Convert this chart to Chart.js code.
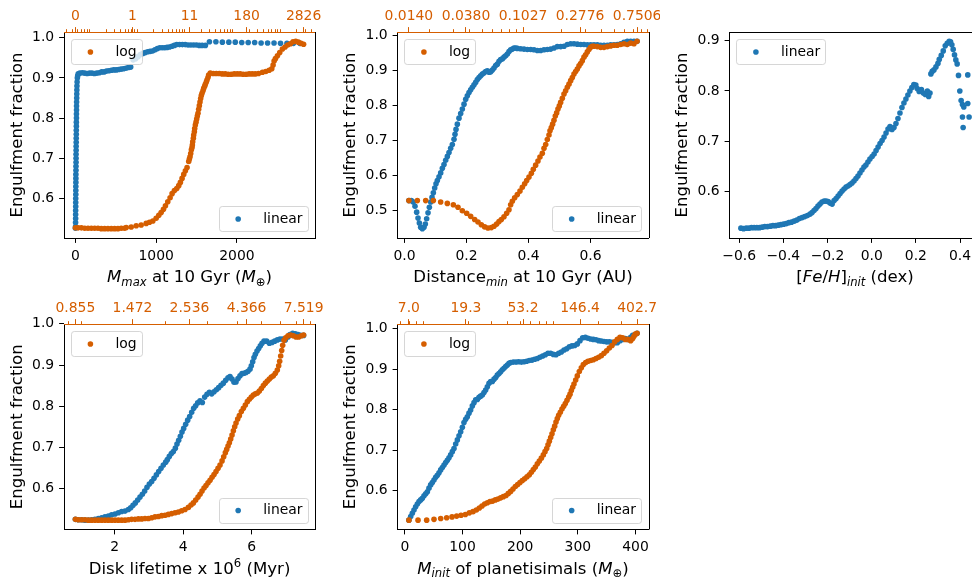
<!DOCTYPE html>
<html>
<head>
<meta charset="utf-8">
<title>Engulfment fraction</title>
<script src="https://cdn.jsdelivr.net/npm/chart.js@4.4.1/dist/chart.umd.min.js"></script>
<style>
  html, body { margin: 0; padding: 0; background: #fff; }
  body { width: 972px; height: 580px; overflow: hidden; position: relative; }
  canvas { position: absolute; }
</style>
</head>
<body>
<canvas id="c1" width="330" height="290" style="left:0;top:0"></canvas>
<canvas id="c2" width="330" height="290" style="left:330px;top:0"></canvas>
<canvas id="c3" width="340" height="290" style="left:660px;top:0"></canvas>
<canvas id="c4" width="330" height="290" style="left:0;top:290px"></canvas>
<canvas id="c5" width="330" height="290" style="left:330px;top:290px"></canvas>
<script>
// ---- M_max at 10 Gyr ----
const p1LinX = [
  1, 2, 2, 3, 3, 3, 4, 4, 4, 5, 5, 5, 6, 6, 6, 7, 7, 8, 8, 8,
  9, 9, 10, 10, 11, 11, 12, 12, 13, 13, 14, 14, 15, 16, 17, 18, 19, 21, 24, 28, 35,
  55, 85, 115, 145, 175, 205, 235, 265, 295, 325, 355, 385, 415, 445, 475, 505, 535, 565, 595, 625, 655, 685,
  715, 745, 775, 805, 835, 865, 895, 925, 955, 985, 1015, 1045, 1075, 1105, 1135, 1165, 1195, 1225,
  1255, 1290, 1325, 1360, 1395, 1430, 1465, 1500, 1535, 1570, 1610,
  1660, 1740, 1820, 1900, 1980, 2060, 2140, 2220, 2300, 2380, 2460, 2540, 2620, 2700, 2780
];
const p1LinY = [
  0.526, 0.53, 0.54, 0.55, 0.56, 0.57, 0.58, 0.59, 0.60, 0.61, 0.62, 0.63, 0.64, 0.65, 0.66, 0.67, 0.68, 0.69, 0.70, 0.71,
  0.72, 0.73, 0.74, 0.75, 0.76, 0.77, 0.78, 0.79, 0.80, 0.81, 0.82, 0.83, 0.84, 0.85, 0.86, 0.87, 0.88, 0.89, 0.90, 0.905, 0.91,
  0.912, 0.913, 0.912, 0.911, 0.912, 0.912, 0.911, 0.912, 0.913, 0.915, 0.915, 0.917, 0.918, 0.919, 0.920, 0.920, 0.921, 0.922, 0.923, 0.924, 0.926, 0.927,
  0.945, 0.948, 0.953, 0.958, 0.961, 0.963, 0.965, 0.966, 0.967, 0.970, 0.973, 0.975, 0.975, 0.975, 0.976, 0.977, 0.979, 0.981,
  0.983, 0.983, 0.983, 0.983, 0.982, 0.982, 0.982, 0.982, 0.981, 0.981, 0.981,
  0.990, 0.990, 0.989, 0.989, 0.989, 0.988, 0.988, 0.988, 0.987, 0.987, 0.987, 0.986, 0.986, 0.986, 0.986
];
const p1LogX = [
  0.0468, 0.0532, 0.0624, 0.0733, 0.0860, 0.1010, 0.1185, 0.1391, 0.1633, 0.1917,
  0.2251, 0.2642, 0.3101, 0.3640, 0.4273, 0.5016, 0.5435, 0.6913, 0.8793, 1.118,
  1.422, 1.669, 1.960, 2.300, 2.615, 2.926, 3.274, 3.604, 4.032, 4.510,
  4.966, 5.556, 6.216, 6.842, 7.413, 8.035, 8.703, 9.430, 10.22, 11.07,
  11.43, 11.80, 12.19, 12.59, 12.99, 13.21, 13.42, 13.86, 14.08, 14.54,
  14.77, 15.25, 15.75, 16.27, 16.80, 17.34, 17.90, 18.49, 19.09, 19.71,
  20.35, 21.02, 22.05, 22.78, 23.89, 24.67, 25.88, 26.73, 28.05, 28.96,
  31.38, 36.25, 41.88, 48.37, 55.87, 64.55, 74.56, 86.14, 99.52, 115.0,
  132.8, 153.4, 177.2, 204.8, 236.5, 273.3, 320.7, 388.7, 456.2, 535.8,
  609.0, 649.2, 681.3, 726.4, 799.8, 894.6, 1017, 1156, 1314, 1494,
  1699, 1931, 2195, 2496, 2826
];
const p1LogY = [
  0.527, 0.527, 0.527, 0.526, 0.526, 0.526, 0.526, 0.526, 0.525, 0.525,
  0.525, 0.525, 0.525, 0.525, 0.526, 0.526, 0.528, 0.529, 0.532, 0.534,
  0.538, 0.541, 0.544, 0.551, 0.558, 0.565, 0.573, 0.582, 0.592, 0.602,
  0.612, 0.620, 0.625, 0.632, 0.640, 0.650, 0.660, 0.669, 0.677, 0.692,
  0.698, 0.704, 0.712, 0.721, 0.727, 0.733, 0.741, 0.750, 0.758, 0.766,
  0.774, 0.783, 0.790, 0.798, 0.805, 0.812, 0.822, 0.831, 0.840, 0.849,
  0.856, 0.862, 0.868, 0.874, 0.879, 0.884, 0.890, 0.895, 0.901, 0.907,
  0.912, 0.911, 0.911, 0.911, 0.910, 0.910, 0.909, 0.909, 0.910, 0.910,
  0.910, 0.909, 0.909, 0.910, 0.910, 0.910, 0.911, 0.914, 0.916, 0.919,
  0.923, 0.932, 0.942, 0.948, 0.955, 0.963, 0.972, 0.977, 0.982, 0.985,
  0.990, 0.991, 0.989, 0.986, 0.984
];
const p1XTicks = [0, 1000, 2000];
const p1TopLabels = ['0', '1', '11', '180', '2826'];

// ---- Distance_min at 10 Gyr ----
const p2LinX = [
  0.0140, 0.0219, 0.0283, 0.0337, 0.0391, 0.0434, 0.0477, 0.0520, 0.0574,
  0.0627, 0.0670, 0.0713, 0.0757, 0.0800, 0.0843, 0.0886, 0.0929, 0.0972, 0.1015,
  0.1058, 0.1112, 0.1166, 0.1219, 0.1273, 0.1327, 0.1381, 0.1434, 0.1488, 0.1542,
  0.1596, 0.1628, 0.1660, 0.1703, 0.1757, 0.1811, 0.1865, 0.1919, 0.1973, 0.2026,
  0.2080, 0.2134, 0.2188, 0.2242, 0.2295, 0.2349, 0.2403, 0.2457, 0.2511, 0.2564,
  0.2618, 0.2672, 0.2726, 0.2780, 0.2833, 0.2887, 0.2941, 0.2995, 0.3049, 0.3102,
  0.3156, 0.3210, 0.3264, 0.3318, 0.3371, 0.3425, 0.3479, 0.3533, 0.3587, 0.3640,
  0.3748, 0.3855, 0.3963, 0.4071, 0.4178, 0.4286, 0.4393, 0.4501, 0.4609, 0.4716,
  0.4824, 0.4931, 0.5039, 0.5147, 0.5254, 0.5362, 0.5469, 0.5577, 0.5685, 0.5792,
  0.5900, 0.6008, 0.6115, 0.6223, 0.6330, 0.6438, 0.6546, 0.6653, 0.6761, 0.6868,
  0.6976, 0.7083, 0.7191, 0.7299, 0.7406, 0.7506
];
const p2LinY = [
  0.529, 0.529, 0.525, 0.513, 0.496, 0.479, 0.465, 0.453, 0.449,
  0.453, 0.462, 0.477, 0.494, 0.510, 0.525, 0.538, 0.551, 0.565, 0.577,
  0.586, 0.597, 0.608, 0.621, 0.632, 0.644, 0.655, 0.666, 0.678, 0.689,
  0.704, 0.718, 0.732, 0.747, 0.764, 0.777, 0.790, 0.804, 0.818, 0.828,
  0.837, 0.845, 0.852, 0.859, 0.866, 0.874, 0.880, 0.885, 0.890, 0.893,
  0.897, 0.899, 0.895, 0.896, 0.901, 0.907, 0.914, 0.918, 0.926, 0.931,
  0.933, 0.938, 0.942, 0.947, 0.954, 0.959, 0.961, 0.964, 0.964, 0.963,
  0.962, 0.961, 0.960, 0.960, 0.959, 0.957, 0.957, 0.959, 0.960, 0.961,
  0.964, 0.968, 0.968, 0.969, 0.974, 0.976, 0.976, 0.975, 0.974, 0.974,
  0.973, 0.973, 0.973, 0.973, 0.972, 0.972, 0.972, 0.973, 0.973, 0.974,
  0.976, 0.980, 0.983, 0.983, 0.983, 0.983
];
const p2LogX = [
  0.0140, 0.01622, 0.01876, 0.02145, 0.02436, 0.02737, 0.03039, 0.03297, 0.03556, 0.03836,
  0.04113, 0.04410, 0.04674, 0.04955, 0.05252, 0.05566, 0.05900, 0.06180, 0.06474, 0.06743,
  0.07023, 0.07357, 0.07707, 0.08027, 0.08264, 0.08507, 0.08861, 0.09285, 0.09727, 0.1013,
  0.1055, 0.1093, 0.1138, 0.1186, 0.1227, 0.1278, 0.1331, 0.1378, 0.1436, 0.1479,
  0.1523, 0.1567, 0.1613, 0.1642, 0.1680, 0.1719, 0.1760, 0.1801, 0.1844, 0.1887,
  0.1932, 0.1977, 0.2036, 0.2096, 0.2158, 0.2222, 0.2287, 0.2355, 0.2424, 0.2495,
  0.2569, 0.2645, 0.2723, 0.2803, 0.2886, 0.2971, 0.3059, 0.3149, 0.3242, 0.3338,
  0.3436, 0.3538, 0.3750, 0.3974, 0.4211, 0.4464, 0.4731, 0.5014, 0.5314, 0.5632,
  0.5969, 0.6326, 0.6707, 0.7110, 0.7506
];
const p2LogY = [
  0.529, 0.529, 0.529, 0.529, 0.525, 0.521, 0.517, 0.510, 0.500, 0.493,
  0.484, 0.475, 0.468, 0.460, 0.454, 0.451, 0.452, 0.456, 0.462, 0.469,
  0.475, 0.483, 0.493, 0.503, 0.517, 0.527, 0.537, 0.546, 0.556, 0.567,
  0.577, 0.586, 0.596, 0.607, 0.618, 0.630, 0.642, 0.653, 0.664, 0.678,
  0.689, 0.703, 0.716, 0.728, 0.737, 0.747, 0.758, 0.770, 0.779, 0.790,
  0.799, 0.809, 0.821, 0.833, 0.842, 0.852, 0.861, 0.871, 0.880, 0.890,
  0.897, 0.904, 0.913, 0.920, 0.928, 0.938, 0.945, 0.953, 0.960, 0.966,
  0.969, 0.969, 0.968, 0.966, 0.966, 0.968, 0.970, 0.972, 0.972, 0.974,
  0.976, 0.974, 0.978, 0.976, 0.983
];
const p2XTicks = [0, 0.2, 0.4, 0.6];
const p2TopLabels = ['0.0140', '0.0380', '0.1027', '0.2776', '0.7506'];

// ---- [Fe/H]_init ----
const p3LinX = [
  -0.592, -0.580, -0.568, -0.556, -0.544, -0.532, -0.520, -0.508, -0.496, -0.484,
  -0.472, -0.459, -0.447, -0.435, -0.423, -0.411, -0.399, -0.387, -0.375, -0.363,
  -0.351, -0.339, -0.327, -0.315, -0.303, -0.291, -0.279, -0.270, -0.261, -0.252,
  -0.243, -0.234, -0.225, -0.215, -0.206, -0.197, -0.188, -0.179, -0.170, -0.161,
  -0.152, -0.143, -0.134, -0.125, -0.116, -0.107, -0.098, -0.089, -0.080, -0.071,
  -0.062, -0.053, -0.044, -0.035, -0.026, -0.017, -0.008, 0.002, 0.011, 0.020,
  0.029, 0.038, 0.047, 0.056, 0.065, 0.074, 0.083, 0.092, 0.101, 0.110,
  0.119, 0.128, 0.137, 0.146, 0.155, 0.164, 0.173, 0.182, 0.191, 0.200,
  0.206, 0.215, 0.225, 0.234, 0.243, 0.252, 0.258, 0.264, 0.268, 0.274,
  0.282, 0.291, 0.300, 0.306, 0.315, 0.324, 0.333, 0.342, 0.351, 0.357,
  0.363, 0.369, 0.375, 0.381, 0.387, 0.393, 0.399, 0.405, 0.411, 0.417,
  0.411, 0.414, 0.435, 0.435, 0.441
];
const p3LinY = [
  0.526, 0.525, 0.526, 0.526, 0.527, 0.527, 0.527, 0.527, 0.528, 0.529,
  0.529, 0.530, 0.531, 0.531, 0.532, 0.533, 0.534, 0.535, 0.537, 0.538,
  0.540, 0.542, 0.545, 0.547, 0.549, 0.551, 0.554, 0.557, 0.561, 0.565,
  0.570, 0.574, 0.578, 0.580, 0.580, 0.579, 0.576, 0.574, 0.581, 0.585,
  0.590, 0.595, 0.600, 0.604, 0.608, 0.610, 0.613, 0.616, 0.620, 0.625,
  0.630, 0.636, 0.642, 0.648, 0.652, 0.658, 0.664, 0.669, 0.674, 0.681,
  0.688, 0.695, 0.701, 0.708, 0.716, 0.724, 0.729, 0.723, 0.727, 0.735,
  0.745, 0.756, 0.767, 0.776, 0.784, 0.792, 0.800, 0.807, 0.813, 0.812,
  0.805, 0.799, 0.803, 0.796, 0.793, 0.800, 0.789, 0.796, 0.834, 0.839,
  0.842, 0.848, 0.855, 0.863, 0.871, 0.880, 0.890, 0.895, 0.899, 0.898,
  0.892, 0.883, 0.872, 0.862, 0.854, 0.831, 0.800, 0.781, 0.773, 0.768,
  0.748, 0.727, 0.832, 0.775, 0.748
];
const p3XTicks = [-0.6, -0.4, -0.2, 0, 0.2, 0.4];

// ---- Disk lifetime ----
const p4LinX = [
  0.855, 0.941, 1.038, 1.135, 1.233, 1.330, 1.427, 1.525, 1.622, 1.719,
  1.817, 1.914, 2.012, 2.109, 2.206, 2.304, 2.401, 2.469, 2.537, 2.605,
  2.674, 2.742, 2.810, 2.878, 2.946, 3.014, 3.083, 3.151, 3.219, 3.287,
  3.355, 3.423, 3.491, 3.540, 3.598, 3.657, 3.715, 3.774, 3.822, 3.871,
  3.920, 3.968, 4.017, 4.075, 4.134, 4.192, 4.251, 4.309, 4.367, 4.426,
  4.494, 4.562, 4.630, 4.698, 4.767, 4.835, 4.903, 4.971, 5.039, 5.107,
  5.175, 5.244, 5.312, 5.370, 5.429, 5.487, 5.545, 5.604, 5.662, 5.721,
  5.779, 5.837, 5.896, 5.954, 5.993, 6.032, 6.071, 6.110, 6.159, 6.207,
  6.256, 6.305, 6.363, 6.441, 6.519, 6.597, 6.675, 6.752, 6.830, 6.908,
  6.986, 7.064, 7.122, 7.200, 7.278, 7.356, 7.434, 7.519
];
const p4LinY = [
  0.525, 0.524, 0.524, 0.523, 0.523, 0.524, 0.525, 0.527, 0.529, 0.531,
  0.533, 0.536, 0.538, 0.541, 0.544, 0.545, 0.549, 0.553, 0.559, 0.565,
  0.572, 0.579, 0.586, 0.594, 0.603, 0.611, 0.617, 0.625, 0.633, 0.641,
  0.649, 0.657, 0.664, 0.670, 0.678, 0.685, 0.690, 0.698, 0.708, 0.717,
  0.727, 0.737, 0.746, 0.756, 0.766, 0.775, 0.785, 0.795, 0.801, 0.808,
  0.813, 0.809, 0.822, 0.829, 0.834, 0.830, 0.835, 0.840, 0.845, 0.851,
  0.856, 0.863, 0.869, 0.872, 0.866, 0.858, 0.859, 0.867, 0.874, 0.879,
  0.880, 0.882, 0.885, 0.890, 0.898, 0.908, 0.918, 0.926, 0.934, 0.940,
  0.947, 0.953, 0.958, 0.958, 0.953, 0.955, 0.958, 0.961, 0.963, 0.963,
  0.961, 0.968, 0.974, 0.977, 0.976, 0.974, 0.972, 0.972
];
const p4LogX = [
  0.855, 0.8794, 0.9077, 0.9369, 0.9671, 0.9983, 1.0306, 1.0638, 1.0981, 1.1336,
  1.1700, 1.2078, 1.2468, 1.2871, 1.3286, 1.3715, 1.4158, 1.4614, 1.5087, 1.5574,
  1.6077, 1.6596, 1.7132, 1.7685, 1.8256, 1.8845, 1.9454, 2.0082, 2.0730, 2.1400,
  2.2091, 2.2804, 2.3540, 2.4300, 2.5085, 2.5730, 2.6308, 2.6899, 2.7504, 2.8033,
  2.8572, 2.9121, 2.9681, 3.0253, 3.0834, 3.1428, 3.2033, 3.2649, 3.3277, 3.3918,
  3.4571, 3.5124, 3.5687, 3.6143, 3.6604, 3.7072, 3.7546, 3.8025, 3.8511, 3.8999,
  3.9497, 4.0130, 4.0772, 4.1556, 4.2355, 4.3170, 4.4001, 4.4847, 4.5710, 4.6590,
  4.7487, 4.8403, 4.9333, 5.0283, 5.1250, 5.2236, 5.3241, 5.4265, 5.5309, 5.6364,
  5.7448, 5.8553, 5.9302, 5.9870, 6.0443, 6.1022, 6.1607, 6.2394, 6.3393, 6.4819,
  6.6489, 6.8202, 6.9960, 7.1763, 7.3612, 7.519
];
const p4LogY = [
  0.525, 0.524, 0.524, 0.524, 0.523, 0.523, 0.523, 0.523, 0.523, 0.523,
  0.523, 0.523, 0.523, 0.523, 0.523, 0.523, 0.524, 0.525, 0.525, 0.526,
  0.526, 0.527, 0.527, 0.529, 0.531, 0.532, 0.534, 0.535, 0.537, 0.539,
  0.541, 0.543, 0.546, 0.549, 0.554, 0.560, 0.565, 0.572, 0.579, 0.586,
  0.594, 0.601, 0.607, 0.614, 0.620, 0.627, 0.634, 0.641, 0.649, 0.657,
  0.667, 0.677, 0.687, 0.695, 0.703, 0.711, 0.720, 0.730, 0.740, 0.750,
  0.759, 0.769, 0.777, 0.787, 0.795, 0.803, 0.811, 0.817, 0.822, 0.827,
  0.830, 0.832, 0.837, 0.843, 0.850, 0.856, 0.861, 0.866, 0.871, 0.874,
  0.880, 0.888, 0.898, 0.909, 0.922, 0.935, 0.948, 0.960, 0.966, 0.971,
  0.973, 0.971, 0.968, 0.968, 0.971, 0.973
];
const p4XTicks = [2, 4, 6];
const p4TopLabels = ['0.855', '1.472', '2.536', '4.366', '7.519'];

// ---- M_init of planetesimals ----
const p5LinX = [
  7.0, 10.1, 12.9, 15.8, 18.7, 21.6, 24.5, 27.4, 30.3, 33.2,
  36.1, 39.0, 41.8, 44.7, 47.6, 50.5, 53.4, 56.3, 59.2, 62.1,
  65.0, 67.9, 70.8, 73.6, 76.5, 79.4, 82.3, 85.2, 88.1, 91.0,
  93.9, 96.8, 99.7, 102.5, 105.4, 108.3, 111.2, 114.1, 117.0, 119.9,
  122.8, 125.7, 128.6, 131.4, 134.3, 137.2, 140.1, 143.0, 145.9, 148.8,
  151.7, 154.6, 157.5, 160.3, 163.2, 166.1, 169.0, 171.9, 174.8, 177.7,
  180.6, 183.5, 188.1, 192.7, 197.3, 202.0, 206.6, 211.2, 215.8, 220.5,
  225.1, 229.7, 234.3, 239.0, 243.6, 248.2, 252.8, 257.5, 262.1, 266.7,
  271.3, 276.0, 280.6, 285.2, 289.8, 294.5, 299.1, 303.7, 308.3, 313.0,
  317.6, 322.2, 326.8, 331.5, 336.1, 340.7, 345.3, 349.9, 354.6, 359.2,
  363.8, 368.4, 373.1, 377.7, 382.3, 386.9, 391.6, 395.0, 402.7
];
const p5LinY = [
  0.527, 0.536, 0.544, 0.552, 0.560, 0.567, 0.573, 0.577, 0.581, 0.587,
  0.592, 0.597, 0.606, 0.614, 0.620, 0.626, 0.633, 0.638, 0.644, 0.651,
  0.657, 0.663, 0.669, 0.675, 0.681, 0.688, 0.696, 0.704, 0.715, 0.725,
  0.735, 0.745, 0.756, 0.768, 0.776, 0.782, 0.791, 0.799, 0.809, 0.817,
  0.824, 0.825, 0.830, 0.833, 0.836, 0.842, 0.848, 0.856, 0.865, 0.869,
  0.869, 0.875, 0.879, 0.885, 0.889, 0.893, 0.898, 0.902, 0.906, 0.910,
  0.914, 0.916, 0.917, 0.917, 0.918, 0.917, 0.918, 0.919, 0.921, 0.922,
  0.924, 0.926, 0.929, 0.932, 0.935, 0.939, 0.939, 0.936, 0.935, 0.939,
  0.942, 0.947, 0.950, 0.955, 0.957, 0.958, 0.962, 0.970, 0.977, 0.978,
  0.976, 0.974, 0.973, 0.972, 0.970, 0.969, 0.968, 0.967, 0.967, 0.966,
  0.965, 0.965, 0.970, 0.973, 0.975, 0.973, 0.978, 0.983, 0.988
];
const p5LogX = [
  7.0, 8.229, 9.595, 10.93, 12.31, 13.69, 15.05, 16.35, 17.66, 19.07,
  20.47, 21.85, 23.18, 24.45, 25.63, 26.88, 28.18, 29.55, 30.98, 32.48,
  34.06, 35.71, 37.44, 39.26, 40.92, 42.65, 44.46, 46.34, 48.30, 50.33,
  52.46, 54.68, 57.00, 59.41, 61.56, 63.80, 66.11, 68.49, 70.97, 73.54,
  76.19, 78.48, 80.84, 82.78, 84.76, 86.79, 88.87, 91.00, 93.18, 95.41,
  97.68, 100.0, 103.0, 106.1, 109.3, 112.6, 116.0, 119.5, 122.4, 125.3,
  128.3, 131.3, 135.3, 139.3, 144.3, 149.6, 155.0, 161.6, 168.4, 176.6,
  185.1, 194.1, 203.5, 213.4, 223.7, 234.6, 246.0, 257.9, 270.4, 283.5,
  297.3, 311.7, 326.8, 342.6, 359.2, 372.2, 381.1, 390.3, 402.7
];
const p5LogY = [
  0.527, 0.527, 0.527, 0.529, 0.531, 0.533, 0.535, 0.537, 0.539, 0.541,
  0.545, 0.548, 0.552, 0.557, 0.562, 0.567, 0.570, 0.573, 0.574, 0.577,
  0.579, 0.582, 0.585, 0.588, 0.593, 0.598, 0.604, 0.610, 0.615, 0.620,
  0.625, 0.629, 0.634, 0.639, 0.645, 0.652, 0.658, 0.666, 0.673, 0.680,
  0.688, 0.696, 0.704, 0.713, 0.722, 0.731, 0.740, 0.750, 0.759, 0.769,
  0.778, 0.786, 0.793, 0.801, 0.808, 0.815, 0.823, 0.831, 0.838, 0.847,
  0.855, 0.863, 0.873, 0.883, 0.894, 0.903, 0.911, 0.916, 0.919, 0.921,
  0.923, 0.926, 0.929, 0.933, 0.939, 0.945, 0.952, 0.958, 0.967, 0.973,
  0.978, 0.977, 0.973, 0.973, 0.970, 0.975, 0.981, 0.986, 0.988
];
const p5XTicks = [0, 100, 200, 300, 400];
const p5TopLabels = ['7.0', '19.3', '53.2', '146.4', '402.7'];

const yTicksLow = [0.5, 0.6, 0.7, 0.8, 0.9, 1.0];
const yTicksHigh = [0.6, 0.7, 0.8, 0.9, 1.0];
const yTicksFeH = [0.6, 0.7, 0.8, 0.9];

const BLUE = '#1f77b4';
const ORANGE = '#d55e00';
const INK = '#000000';
const FAMILY = "'DejaVu Sans', sans-serif";
const TICK_PX = 13.9;
const LABEL_PX = 16.6;
const TICK_LEN = 4.9;
const TICK_PAD = 4.9;
const TOP_PAD = 2.4;
const MARK_R = 2.8;

function pairs(xs, ys) {
  return xs.map((x, i) => ({ x: x, y: ys[i] }));
}

// matplotlib-style 5% margins around the data extent
function padRange(vals) {
  const lo = Math.min(...vals), hi = Math.max(...vals);
  const m = (hi - lo) * 0.05;
  return [lo - m, hi + m];
}

function padLogRange(vals) {
  const lo = Math.log10(Math.min(...vals)), hi = Math.log10(Math.max(...vals));
  const m = (hi - lo) * 0.05;
  return [Math.pow(10, lo - m), Math.pow(10, hi + m)];
}

// evenly spaced (in log) ticks between data min and max
function logSpaced(vals, n) {
  const lo = Math.min(...vals), hi = Math.max(...vals);
  const out = [];
  for (let k = 0; k < n; k++) out.push(lo * Math.pow(hi / lo, k / (n - 1)));
  return out;
}

function fmtTick(v, digits) {
  const s = Math.abs(v).toFixed(digits);
  return (v < 0 && Number(s) !== 0 ? '\u2212' : '') + s;
}

function alignPx(v) {
  return Math.round(v) + 0.5;
}

// right spine (and top spine where there is no twin axis)
const frame = {
  id: 'frame',
  afterDraw(chart) {
    const { ctx, chartArea: a } = chart;
    ctx.save();
    ctx.strokeStyle = INK;
    ctx.lineWidth = 1;
    ctx.beginPath();
    ctx.moveTo(alignPx(a.right), a.top);
    ctx.lineTo(alignPx(a.right), a.bottom);
    if (!chart.scales.x2) {
      ctx.moveTo(a.left, alignPx(a.top));
      ctx.lineTo(a.right, alignPx(a.top));
    }
    ctx.stroke();
    ctx.restore();
  }
};

// log minor ticks on the upper axis
const minorTicks = {
  id: 'minorTicks',
  afterDraw(chart) {
    const s = chart.scales.x2;
    if (!s) return;
    const ctx = chart.ctx;
    ctx.save();
    ctx.strokeStyle = ORANGE;
    ctx.lineWidth = 1;
    const e0 = Math.floor(Math.log10(s.min)), e1 = Math.ceil(Math.log10(s.max));
    ctx.beginPath();
    for (let e = e0; e <= e1; e++) {
      for (let m = 2; m <= 9; m++) {
        const v = m * Math.pow(10, e);
        if (v < s.min || v > s.max) continue;
        const px = alignPx(s.getPixelForValue(v));
        ctx.moveTo(px, s.bottom);
        ctx.lineTo(px, s.bottom - 2.8);
      }
    }
    ctx.stroke();
    ctx.restore();
  }
};

function roundRect(ctx, x, y, w, h, r) {
  ctx.beginPath();
  ctx.moveTo(x + r, y);
  ctx.lineTo(x + w - r, y);
  ctx.arcTo(x + w, y, x + w, y + r, r);
  ctx.lineTo(x + w, y + h - r);
  ctx.arcTo(x + w, y + h, x + w - r, y + h, r);
  ctx.lineTo(x + r, y + h);
  ctx.arcTo(x, y + h, x, y + h - r, r);
  ctx.lineTo(x, y + r);
  ctx.arcTo(x, y, x + r, y, r);
  ctx.closePath();
}

// framed legends placed inside the axes corners
const boxLegend = {
  id: 'boxLegend',
  afterDatasetsDraw(chart, args, opts) {
    const { ctx, chartArea: a } = chart;
    const fs = TICK_PX, pad = 0.4 * fs, gap = 0.5 * fs;
    for (const item of opts.items || []) {
      ctx.save();
      ctx.font = fs + 'px ' + FAMILY;
      const tw = ctx.measureText(item.label).width;
      const w = pad + 2 * fs + 0.8 * fs + tw + pad;
      const h = 2 * pad + fs;
      const x = item.corner === 'ul' ? a.left + gap : a.right - gap - w;
      const y = item.corner === 'ul' ? a.top + gap : a.bottom - gap - h;
      roundRect(ctx, Math.round(x) + 0.5, Math.round(y) + 0.5, Math.round(w), Math.round(h), 0.2 * fs);
      ctx.fillStyle = 'rgba(255,255,255,0.8)';
      ctx.fill();
      ctx.strokeStyle = 'rgba(204,204,204,0.8)';
      ctx.lineWidth = 1;
      ctx.stroke();
      ctx.fillStyle = item.color;
      ctx.beginPath();
      ctx.arc(x + pad + fs, y + h / 2 + 0.5, MARK_R, 0, Math.PI * 2);
      ctx.fill();
      ctx.fillStyle = INK;
      ctx.textBaseline = 'middle';
      ctx.textAlign = 'left';
      ctx.fillText(item.label, x + pad + 2.8 * fs, y + h / 2 + 0.5);
      ctx.restore();
    }
  }
};

// x-axis label with italic, subscript and superscript runs
const richTitle = {
  id: 'richTitle',
  afterDraw(chart, args, opts) {
    if (!opts.parts) return;
    const { ctx, chartArea: a } = chart;
    const runs = opts.parts.map(p => {
      const small = p.sub || p.sup;
      const size = small ? LABEL_PX * 0.7 : LABEL_PX;
      const font = (p.it ? 'italic ' : '') + size + 'px ' + FAMILY;
      ctx.font = font;
      const dy = p.sub ? LABEL_PX * 0.22 : p.sup ? -LABEL_PX * 0.42 : 0;
      return { text: p.t, font: font, w: ctx.measureText(p.t).width, dy: dy };
    });
    const total = runs.reduce((s, r) => s + r.w, 0);
    let x = (a.left + a.right) / 2 - total / 2;
    const base = a.bottom + opts.offset;
    ctx.save();
    ctx.fillStyle = INK;
    ctx.textAlign = 'left';
    ctx.textBaseline = 'alphabetic';
    for (const r of runs) {
      ctx.font = r.font;
      ctx.fillText(r.text, x, base + r.dy);
      x += r.w;
    }
    ctx.restore();
  }
};

function buildPanel(spec) {
  const g = spec.box;
  const allX = spec.logX ? spec.linX.concat(spec.logX) : spec.linX;
  const allY = spec.logY ? spec.linY.concat(spec.logY) : spec.linY;
  const [xMin, xMax] = padRange(allX);
  const [yMin, yMax] = padRange(allY);
  const tickFont = { family: FAMILY, size: TICK_PX };

  const datasets = [{
    label: 'linear',
    data: pairs(spec.linX, spec.linY),
    xAxisID: 'x', yAxisID: 'y',
    backgroundColor: BLUE, borderColor: BLUE,
    pointRadius: MARK_R, borderWidth: 0, order: 1
  }];

  const scales = {
    x: {
      type: 'linear', position: 'bottom', min: xMin, max: xMax,
      afterBuildTicks: s => { s.ticks = spec.xTicks.map(v => ({ value: v })); },
      afterFit: s => { s.height = g.bottom; s.paddingLeft = 0; s.paddingRight = 0; },
      ticks: {
        font: tickFont, color: INK, padding: TICK_PAD, autoSkip: false, maxRotation: 0,
        callback: v => fmtTick(v, spec.xDigits)
      },
      grid: { drawOnChartArea: false, tickLength: TICK_LEN, tickColor: INK },
      border: { color: INK, width: 1 }
    },
    y: {
      type: 'linear', position: 'left', min: yMin, max: yMax,
      afterBuildTicks: s => { s.ticks = spec.yTicks.map(v => ({ value: v })); },
      afterFit: s => { s.width = g.left; s.paddingTop = 0; s.paddingBottom = 0; },
      ticks: {
        font: tickFont, color: INK, padding: TICK_PAD, autoSkip: false,
        callback: v => fmtTick(v, 1)
      },
      grid: { drawOnChartArea: false, tickLength: TICK_LEN, tickColor: INK },
      border: { color: INK, width: 1 },
      title: {
        display: true, text: 'Engulfment fraction', color: INK,
        font: { family: FAMILY, size: LABEL_PX, lineHeight: 1.164 },
        padding: { top: g.left - 46.5 - LABEL_PX * 1.164 / 2, bottom: 0 }
      }
    }
  };

  const legendItems = [];
  if (spec.logX) {
    datasets.push({
      label: 'log',
      data: pairs(spec.logX, spec.logY),
      xAxisID: 'x2', yAxisID: 'y',
      backgroundColor: ORANGE, borderColor: ORANGE,
      pointRadius: MARK_R, borderWidth: 0, order: 0
    });
    const [lMin, lMax] = padLogRange(spec.logX);
    const topVals = logSpaced(spec.logX, spec.topLabels.length);
    scales.x2 = {
      type: 'logarithmic', position: 'top', min: lMin, max: lMax,
      afterBuildTicks: s => { s.ticks = topVals.map(v => ({ value: v })); },
      afterFit: s => { s.height = g.top; s.paddingLeft = 0; s.paddingRight = 0; },
      ticks: {
        font: tickFont, color: ORANGE, padding: TOP_PAD, autoSkip: false, maxRotation: 0,
        callback: (v, i) => spec.topLabels[i]
      },
      grid: { drawOnChartArea: false, tickLength: TICK_LEN, tickColor: ORANGE },
      border: { color: ORANGE, width: 1 }
    };
    legendItems.push({ label: 'log', color: ORANGE, corner: 'ul' });
    legendItems.push({ label: 'linear', color: BLUE, corner: 'lr' });
  } else {
    legendItems.push({ label: 'linear', color: BLUE, corner: 'ul' });
  }

  new Chart(document.getElementById(spec.id), {
    type: 'scatter',
    data: { datasets: datasets },
    options: {
      responsive: false,
      animation: false,
      events: [],
      layout: { padding: { left: 0, right: g.right, top: spec.logX ? 0 : g.top, bottom: 0 } },
      plugins: {
        legend: { display: false },
        tooltip: { enabled: false },
        boxLegend: { items: legendItems },
        richTitle: { parts: spec.xLabel, offset: 44 }
      },
      scales: scales
    },
    plugins: [frame, minorTicks, boxLegend, richTitle]
  });
}

const panels = [
  {
    id: 'c1', linX: p1LinX, linY: p1LinY, logX: p1LogX, logY: p1LogY,
    xTicks: p1XTicks, xDigits: 0, yTicks: yTicksHigh, topLabels: p1TopLabels,
    xLabel: [{ t: 'M', it: 1 }, { t: 'max', it: 1, sub: 1 }, { t: ' at 10 Gyr (' }, { t: 'M', it: 1 }, { t: '\u2295', sub: 1 }, { t: ')' }],
    box: { left: 64, top: 32, bottom: 52, right: 15 }
  },
  {
    id: 'c2', linX: p2LinX, linY: p2LinY, logX: p2LogX, logY: p2LogY,
    xTicks: p2XTicks, xDigits: 1, yTicks: yTicksLow, topLabels: p2TopLabels,
    xLabel: [{ t: 'Distance' }, { t: 'min', it: 1, sub: 1 }, { t: ' at 10 Gyr (AU)' }],
    box: { left: 67.5, top: 32, bottom: 52, right: 11.5 }
  },
  {
    id: 'c3', linX: p3LinX, linY: p3LinY,
    xTicks: p3XTicks, xDigits: 1, yTicks: yTicksFeH,
    xLabel: [{ t: '[' }, { t: 'Fe', it: 1 }, { t: '/' }, { t: 'H', it: 1 }, { t: ']' }, { t: 'init', it: 1, sub: 1 }, { t: ' (dex)' }],
    box: { left: 69.5, top: 32, bottom: 52, right: 19.5 }
  },
  {
    id: 'c4', linX: p4LinX, linY: p4LinY, logX: p4LogX, logY: p4LogY,
    xTicks: p4XTicks, xDigits: 0, yTicks: yTicksHigh, topLabels: p4TopLabels,
    xLabel: [{ t: 'Disk lifetime x 10' }, { t: '6', sup: 1 }, { t: ' (Myr)' }],
    box: { left: 64, top: 34, bottom: 50.5, right: 15 }
  },
  {
    id: 'c5', linX: p5LinX, linY: p5LinY, logX: p5LogX, logY: p5LogY,
    xTicks: p5XTicks, xDigits: 0, yTicks: yTicksHigh, topLabels: p5TopLabels,
    xLabel: [{ t: 'M', it: 1 }, { t: 'init', it: 1, sub: 1 }, { t: ' of planetisimals (' }, { t: 'M', it: 1 }, { t: '\u2295', sub: 1 }, { t: ')' }],
    box: { left: 67.5, top: 34, bottom: 50.5, right: 11.5 }
  }
];

panels.forEach(buildPanel);
</script>
</body>
</html>
